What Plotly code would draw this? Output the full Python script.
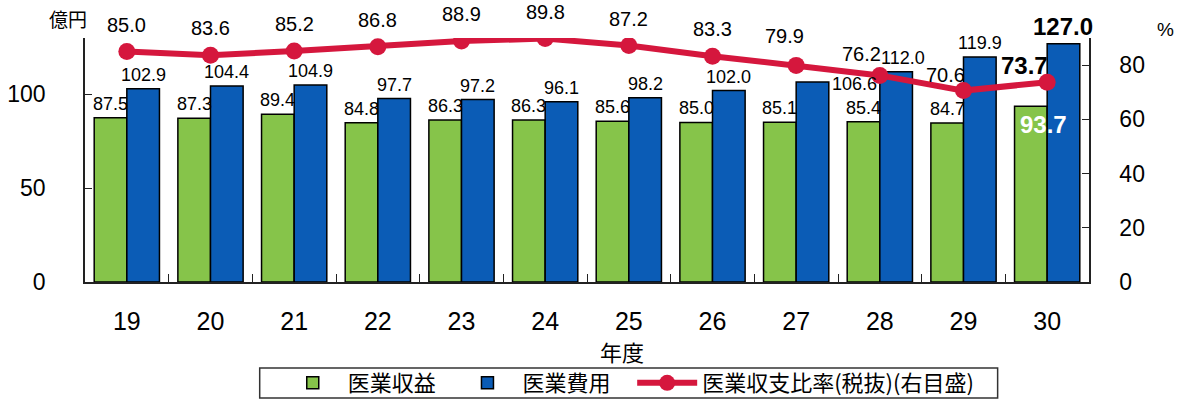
import plotly.graph_objects as go

# Fiscal years (平成) and values in 億円 / %
years = ["19", "20", "21", "22", "23", "24", "25", "26", "27", "28", "29", "30"]
revenue = [87.5, 87.3, 89.4, 84.8, 86.3, 86.3, 85.6, 85.0, 85.1, 85.4, 84.7, 93.7]
expense = [102.9, 104.4, 104.9, 97.7, 97.2, 96.1, 98.2, 102.0, 106.6, 112.0, 119.9, 127.0]
ratio = [85.0, 83.6, 85.2, 86.8, 88.9, 89.8, 87.2, 83.3, 79.9, 76.2, 70.6, 73.7]

GREEN = "#86c44a"
BLUE = "#0b5cb6"
RED = "#d5173d"
FONT = "Liberation Sans, Arial, sans-serif"
CJK = "Noto Sans CJK JP, sans-serif"

W, H = 1182, 399
M = dict(l=85, r=93, t=38, b=117, autoexpand=False)
BARGAP = 0.22
cat_px = (W - M["l"] - M["r"]) / len(years)
half = cat_px * (1 - BARGAP) / 4  # offset from category centre to each bar centre

fig = go.Figure()
bar_line = dict(color="black", width=1.5)
fig.add_bar(x=years, y=revenue, name="医業収益", legend="legend",
            marker=dict(color=GREEN, line=bar_line))
fig.add_bar(x=years, y=expense, name="医業費用", legend="legend2",
            marker=dict(color=BLUE, line=bar_line))
fig.add_scatter(x=years, y=ratio, yaxis="y2", name="医業収支比率(税抜)(右目盛)",
                legend="legend3", mode="lines+markers",
                line=dict(color=RED, width=6),
                marker=dict(color=RED, size=17))

ann = []
last = len(years) - 1

# value labels above the green bars (x given as category index)
for i, v in enumerate(revenue):
    a = dict(x=i, y=v, xref="x", yref="y", text=f"{v:.1f}", showarrow=False,
             xshift=-half, yanchor="bottom", yshift=2,
             font=dict(family=FONT, size=18, color="black"))
    if i == last:
        a.update(text=f"<b>{v:.1f}</b>", yanchor="top", yshift=-3, xshift=-half + 13,
                 font=dict(family=FONT, size=24, color="white"))
    ann.append(a)

# value labels above the blue bars
for i, v in enumerate(expense):
    yr = years[i]
    a = dict(x=i, y=v, xref="x", yref="y", text=f"{v:.1f}", showarrow=False,
             xshift=half, yanchor="bottom", yshift=2,
             font=dict(family=FONT, size=18, color="black"))
    if yr == "27":
        a.update(xanchor="left", xshift=34, yanchor="middle", yshift=-2)
    elif yr == "28":
        a.update(xshift=half + 7)
    elif i == last:
        a.update(text=f"<b>{v:.1f}</b>", font=dict(family=FONT, size=24, color="black"))
    ann.append(a)

# ratio labels above the line
for i, v in enumerate(ratio):
    yr = years[i]
    a = dict(x=i, y=v, xref="x", yref="y2", text=f"{v:.1f}", showarrow=False,
             yanchor="bottom", yshift=14,
             font=dict(family=FONT, size=20, color="black"))
    if yr == "27":
        a.update(xshift=-12, yshift=16)
    elif yr == "28":
        a.update(xanchor="right", xshift=3, yshift=8)
    elif yr == "29":
        a.update(xanchor="right", xshift=3, yshift=3)
    elif i == last:
        a.update(text=f"<b>{v:.1f}</b>", xanchor="right", xshift=3, yshift=1,
                 font=dict(family=FONT, size=24, color="black"))
    ann.append(a)

# axis unit captions and x-axis title
cap = dict(xref="paper", yref="paper", showarrow=False, xanchor="center", yanchor="middle")
ann += [
    dict(cap, x=-0.017, y=1.078, text="億円", font=dict(family=CJK, size=19, color="black")),
    dict(cap, x=1.076, y=1.033, text="%", font=dict(family=FONT, size=19, color="black")),
    dict(cap, x=0.535, y=-0.283, text="年度", font=dict(family=CJK, size=22, color="black")),
]

# one borderless legend per series, sharing a single framed box
leg_common = dict(orientation="h", xanchor="left", y=-0.414, yanchor="middle",
                  borderwidth=0, bgcolor="rgba(0,0,0,0)",
                  font=dict(family=CJK, size=22, color="black"),
                  itemwidth=60)
legend_box = dict(type="rect", xref="paper", yref="paper",
                  x0=0.174, x1=0.909, y0=-0.475, y1=-0.352,
                  line=dict(color="#333333", width=1.5), fillcolor="white", layer="below")

fig.update_layout(
    width=W, height=H, margin=M,
    paper_bgcolor="white", plot_bgcolor="white",
    barmode="group", bargap=BARGAP, bargroupgap=0,
    annotations=ann,
    shapes=[legend_box],
    showlegend=True,
    legend=dict(leg_common, x=0.192),
    legend2=dict(leg_common, x=0.366),
    legend3=dict(leg_common, x=0.545),
    xaxis=dict(type="category", showline=True, linecolor="#222222", linewidth=1.5,
               ticks="inside", ticklen=8, tickcolor="#222222", tickson="boundaries",
               tickangle=0, range=[-0.5, len(years) - 0.5],
               tickfont=dict(family=FONT, size=25, color="black"),
               ticklabelstandoff=16, showgrid=False, zeroline=False),
    yaxis=dict(range=[0, 130], dtick=50, showline=True, linecolor="#222222", linewidth=1.5,
               ticks="inside", ticklen=7, tickcolor="#222222",
               tickfont=dict(family=FONT, size=23, color="black"),
               ticklabelstandoff=33, showgrid=False, zeroline=False),
    yaxis2=dict(range=[0, 90], dtick=20, overlaying="y", side="right",
                showline=True, linecolor="#222222", linewidth=1.5,
                ticks="inside", ticklen=7, tickcolor="#222222",
                tickfont=dict(family=FONT, size=23, color="black"),
                ticklabelstandoff=24, showgrid=False, zeroline=False),
)

fig.write_html("out.html")
